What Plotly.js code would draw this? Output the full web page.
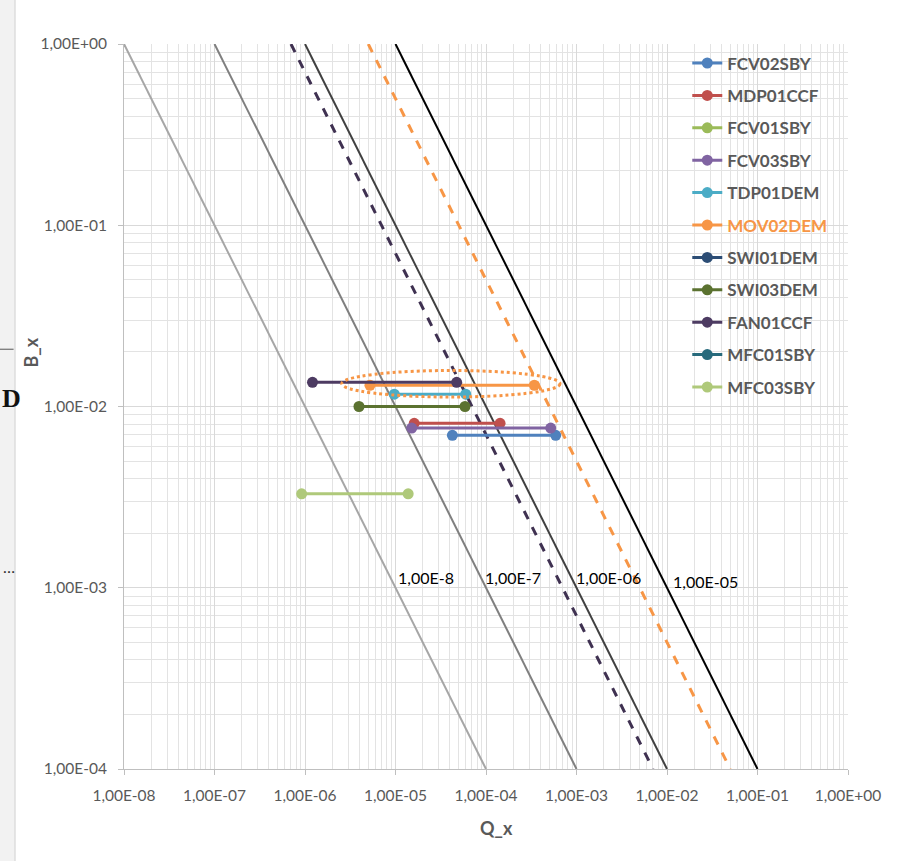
<!DOCTYPE html>
<html>
<head>
<meta charset="utf-8">
<script src="https://cdn.plot.ly/plotly-3.0.1.min.js"></script>
<style>html,body{margin:0;padding:0;background:#fff;}#chart{width:898px;height:861px;}</style>
</head>
<body>
<div id="chart"></div>
<script>
// ---- data ----
const seriesNames = ["FCV02SBY","MDP01CCF","FCV01SBY","FCV03SBY","TDP01DEM","MOV02DEM","SWI01DEM","SWI03DEM","FAN01CCF","MFC01SBY","MFC03SBY"];
const seriesQ = [
  [4.25e-5, 5.89e-4],
  [1.61e-5, 1.43e-4],
  [null],
  [1.51e-5, 5.19e-4],
  [9.7e-6, 5.97e-5],
  [5.22e-6, 3.42e-4],
  [null],
  [3.95e-6, 5.86e-5],
  [1.21e-6, 4.74e-5],
  [null],
  [9.18e-7, 1.38e-5]
];
const seriesB = [
  [6.93e-3, 6.93e-3],
  [8.08e-3, 8.08e-3],
  [null],
  [7.6e-3, 7.6e-3],
  [1.17e-2, 1.17e-2],
  [1.31e-2, 1.31e-2],
  [null],
  [1.0e-2, 1.0e-2],
  [1.36e-2, 1.36e-2],
  [null],
  [3.30e-3, 3.30e-3]
];
// iso-lines B*Q = constant
const isoProducts = [1e-8, 1e-7, 7e-7, 1e-6, 5e-6, 1e-5];
const isoLabels = ["1,00E-8", "1,00E-7", "", "1,00E-06", "", "1,00E-05"];
// ticks
const xTickVals = [1e-8,1e-7,1e-6,1e-5,1e-4,1e-3,1e-2,1e-1,1];
const xTickText = ["1,00E-08","1,00E-07","1,00E-06","1,00E-05","1,00E-04","1,00E-03","1,00E-02","1,00E-01","1,00E+00"];
const yTickVals = [1e-4,1e-3,1e-2,1e-1,1];
const yTickText = ["1,00E-04","1,00E-03","1,00E-02","1,00E-01","1,00E+00"];
const highlightRegion = {q0: 2.55e-6, q1: 6.58e-4, b0: 1.128e-2, b1: 1.58e-2};

// ---- styles ----
const seriesColors = ["#4F81BD","#C0504D","#9BBB59","#8064A2","#4BACC6","#F79646","#2C4D75","#5B7230","#4D3B62","#276A7C","#AFC97A"];
const isoStyles = [
  {color:"#A6A6A6", width:2, dash:"solid"},
  {color:"#7F7F7F", width:2, dash:"solid"},
  {color:"#3F3151", width:3, dash:"dash"},
  {color:"#404040", width:2, dash:"solid"},
  {color:"#F79646", width:3, dash:"dash"},
  {color:"#000000", width:2, dash:"solid"}
];
const labelPos = [
  {lx:-4.663, ly:-2.943},
  {lx:-3.702, ly:-2.943},
  null,
  {lx:-2.641, ly:-2.943},
  null,
  {lx:-1.580, ly:-2.965}
];

const traces = [];
isoProducts.forEach((p, i) => {
  traces.push({
    type: "scatter", mode: "lines",
    x: [p / 1, p / 1e-4], y: [1, 1e-4],
    line: isoStyles[i], showlegend: false, hoverinfo: "skip"
  });
});
seriesNames.forEach((n, i) => {
  const nm = n === "MOV02DEM" ? '<span style="color:#F79646">' + n + '</span>' : n;
  traces.push({
    type: "scatter", mode: "lines+markers",
    name: nm, x: seriesQ[i], y: seriesB[i],
    line: {color: seriesColors[i], width: 3},
    marker: {color: seriesColors[i], size: 11},
    legendgroup: "g" + i, showlegend: true
  });
});

const FONT = "Lato, 'Open Sans', sans-serif";
const annotations = [];
isoLabels.forEach((t, i) => {
  if (!t) return;
  annotations.push({
    xref: "x", yref: "y", x: labelPos[i].lx, y: labelPos[i].ly, text: t,
    xanchor: "center", yanchor: "middle",
    showarrow: false, font: {family: FONT, size: 16, color: "#000"}
  });
});
annotations.push({xref:"paper", yref:"paper", x:0.515, y:-0.0814, xanchor:"center", yanchor:"middle",
  text:"<b>Q_x</b>", showarrow:false, font:{family:FONT, size:18, color:"#595959"}});
annotations.push({xref:"paper", yref:"paper", x:-0.1278, y:0.575, xanchor:"center", yanchor:"middle",
  text:"<b>B_x</b>", textangle:-90, showarrow:false, font:{family:FONT, size:18, color:"#595959"}});
annotations.push({xref:"paper", yref:"paper", x:-0.1713, y:0.5117, xanchor:"left", yanchor:"middle",
  text:"<b>D</b>", showarrow:false, font:{family:"'Liberation Serif', serif", size:26, color:"#111"}});
annotations.push({xref:"paper", yref:"paper", x:-0.1705, y:0.264, xanchor:"left", yanchor:"bottom",
  text:"…", showarrow:false, font:{family:FONT, size:16, color:"#333"}});

const shapes = [
  {type:"rect", xref:"paper", yref:"paper", x0:-0.175, x1:-0.1505, y0:-0.2, y1:1.07,
   fillcolor:"#F2F2F2", line:{width:0}, layer:"below"},
  {type:"line", xref:"paper", yref:"paper", x0:-0.175, x1:-0.1525, y0:0.579, y1:0.579,
   line:{color:"#555", width:1}},
  {type:"line", xref:"paper", yref:"paper", x0:-0.1505, x1:-0.1505, y0:-0.2, y1:1.07,
   line:{color:"#D0D0D0", width:1}},
  {type:"circle", xref:"x", yref:"y", x0:highlightRegion.q0, x1:highlightRegion.q1,
   y0:highlightRegion.b0, y1:highlightRegion.b1, line:{color:"#F79646", width:3, dash:"dot"}}
];

const axisCommon = {
  type: "log", showgrid: true, gridcolor: "#D9D9D9", gridwidth: 1,
  showline: true, linecolor: "#BFBFBF", linewidth: 1,
  ticks: "outside", ticklen: 5, tickcolor: "#BFBFBF",
  tickfont: {family: FONT, size: 15.5, color: "#595959"},
  minor: {dtick: "D1", showgrid: true, gridcolor: "#E3E3E3", ticks: ""},
  zeroline: false, tickmode: "array"
};

const layout = {
  width: 898, height: 861,
  margin: {l: 124, r: 50, t: 44, b: 92},
  paper_bgcolor: "#fff", plot_bgcolor: "#fff",
  font: {family: FONT},
  xaxis: Object.assign({}, axisCommon, {range: [-8, 0], tickvals: xTickVals, ticktext: xTickText, ticklabelstandoff: 7}),
  yaxis: Object.assign({}, axisCommon, {range: [-4, 0], tickvals: yTickVals, ticktext: yTickText, ticklabelstandoff: 8}),
  legend: {
    x: 0.778, y: 0.998, xanchor: "left", yanchor: "top",
    bgcolor: "rgba(0,0,0,0)", borderwidth: 0,
    font: {family: FONT, size: 17, color: "#595959", weight: "bold"},
    tracegroupgap: 7.3, itemclick: false
  },
  annotations: annotations,
  shapes: shapes,
  hovermode: false,
  showlegend: true
};

Plotly.newPlot("chart", traces, layout, {displayModeBar: false, staticPlot: true});
</script>
</body>
</html>
